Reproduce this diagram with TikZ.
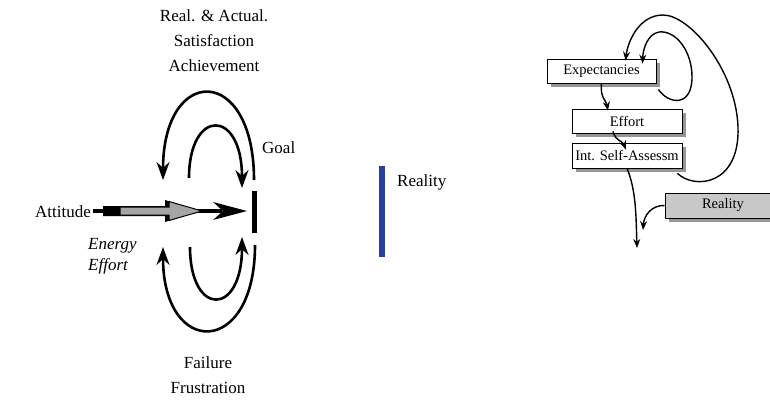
\documentclass[tikz,border=0pt]{standalone}
\usepackage{fontspec}
\setmainfont{Liberation Serif}
\usetikzlibrary{arrows.meta,shadows,calc}
\definecolor{realblue}{RGB}{38,64,155}
\definecolor{arrowgray}{RGB}{165,165,165}
\definecolor{boxgray}{RGB}{200,200,200}
\definecolor{shadowgray}{RGB}{150,150,150}
\begin{document}
\begin{tikzpicture}[x=1pt,y=-1pt,
  lbl/.style={font=\fontsize{17}{20}\selectfont, inner sep=0pt},
  itlbl/.style={font=\fontsize{17}{20}\selectfont\itshape, inner sep=0pt},
  cycle arc/.style={line width=2.6pt, -{Stealth[length=18pt,width=13pt,inset=6pt]}},
  box/.style={draw=black, line width=0.8pt, fill=white, inner sep=0pt,
    font=\fontsize{14.5}{16}\selectfont,
    drop shadow={shadow xshift=4pt, shadow yshift=-4pt, fill=shadowgray, opacity=1}},
  link/.style={line width=1.4pt, -{Stealth[length=9pt,width=7pt,inset=3pt]}}
]
\useasboundingbox (0,0) rectangle (770,401);

% ---- left: attitude, goal and feedback cycles ----
\node[lbl, anchor=base] (top1) at (214,22) {Real. \& Actual.};
\node[lbl, anchor=base] (top2) at (214,47) {Satisfaction};
\node[lbl, anchor=base] (top3) at (214,72) {Achievement};
\node[lbl, anchor=base] (bot1) at (208,368) {Failure};
\node[lbl, anchor=base] (bot2) at (208,393) {Frustration};
\node[lbl, anchor=base west] (att) at (35,217) {Attitude};
\node[itlbl, anchor=base west] (energy) at (88,249) {Energy};
\node[itlbl, anchor=base west] (effort) at (88,270) {Effort};
\node[lbl, anchor=base west] (goaltxt) at (262,153) {Goal};

\node[fill=black, minimum width=5pt, minimum height=42pt, inner sep=0pt] (goal) at (254,212) {};

% main arrow towards the goal
\coordinate (tail) at (93,211);
\coordinate (tip) at (247,211);
\draw[line width=3.5pt] (tail) -- (222,211);
\fill (tip) -- (213,202) -- (223,211) -- (213,220) -- cycle;
\fill (103,206) -- (165,206) -- (165,200) -- (199,211) -- (165,222) -- (165,216) -- (103,216) -- cycle;
\filldraw[fill=arrowgray, draw=black, line width=1pt]
  (120,207) -- (169,207) -- (169,201.5) -- (202,211) -- (169,220.5) -- (169,215) -- (120,215) -- cycle;

% feedback arcs
\coordinate (ta1) at (254,180); \coordinate (ta2) at (163,180);
\coordinate (ti1) at (189,178); \coordinate (ti2) at (242,188);
\coordinate (ba1) at (255,245); \coordinate (ba2) at (163,247);
\coordinate (bi1) at (190,247); \coordinate (bi2) at (242,237);
\draw[cycle arc] (ta1) .. controls (254,64) and (163,64) .. (ta2);
\draw[cycle arc] (ti1) .. controls (189,108) and (242,108) .. (ti2);
\draw[cycle arc] (ba1) .. controls (255,358) and (163,358) .. (ba2);
\draw[cycle arc] (bi1) .. controls (190,317) and (242,317) .. (bi2);

% ---- middle: reality bar ----
\fill[realblue] (379,166) rectangle (385,257);
\node[lbl, anchor=base west] (realtxt) at (397,186) {Reality};

% ---- right: expectancy loop ----
\node[box, minimum width=109pt, minimum height=24pt] (exp) at (601.5,71) {Expectancies};
\node[box, minimum width=110pt, minimum height=24pt] (eff) at (627,121) {Effort};
\node[box, minimum width=110pt, minimum height=25pt] (isa) at (627,155.5) {Int. Self-Assessm};
\node[box, fill=boxgray, minimum width=116pt, minimum height=25pt] (real) at (723,205.5) {Reality};

\coordinate (down) at (637,248);
\coordinate (merge) at (643,230);

\draw[link] (exp.south) .. controls (600,98) and (606,100) .. ($(eff.north)+(-19,2)$);
\draw[link] ($(eff.south)+(-14,-2)$) .. controls (616,142) and (622,140) .. ($(isa.north)+(-1,7)$);
\draw[link] (isa.south) .. controls (636,190) and (636,215) .. (down);
\draw[link] (real.west) .. controls (652,205) and (644,215) .. (merge);
\draw[link] ($(exp.south east)+(2,6)$) .. controls (668,104) and (692,108) .. (692,77)
  .. controls (692,50) and (675,30) .. (659,32) .. controls (648,34) and (643,48) .. ($(exp.north)+(41,5)$);
\draw[link] ($(isa.south east)+(-5,5)$) .. controls (695,190) and (740,185) .. (738,127)
  .. controls (736,70) and (690,15) .. (663,15) .. controls (640,15) and (628,40) .. ($(exp.north)+(24,2)$);
\end{tikzpicture}
\end{document}
